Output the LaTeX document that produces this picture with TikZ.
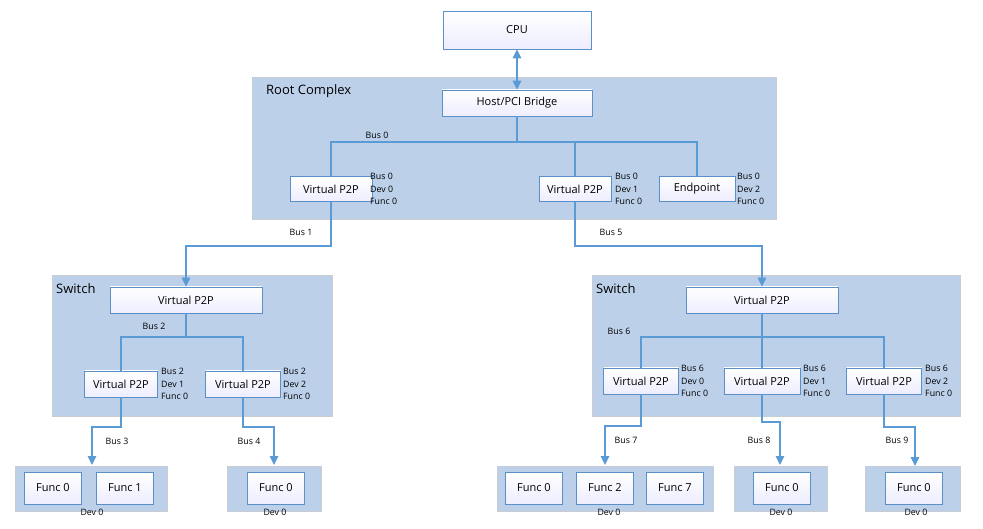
\documentclass[tikz,border=0pt]{standalone}
\usepackage{fontspec}
\setmainfont{Open Sans}
\usetikzlibrary{arrows.meta,shadings}
\definecolor{grpfill}{HTML}{BDD0E9}
\definecolor{grpdraw}{HTML}{C9CDD3}
\definecolor{lineblue}{HTML}{5B9BD5}
\definecolor{boxdraw}{HTML}{5B8FC7}
\begin{document}
\begin{tikzpicture}[x=1pt,y=-1pt,
  grp/.style={fill=grpfill,draw=grpdraw,line width=0.8pt,anchor=north west,inner sep=0pt},
  wbox/.style={draw=boxdraw,line width=0.7pt,top color=white,bottom color=white!93!blue,inner sep=0pt,font=\fontsize{11}{13}\selectfont},
  lbl/.style={font=\fontsize{8.8}{12.5}\selectfont,inner sep=0pt,align=left,anchor=west},
  bus/.style={font=\fontsize{8.8}{10}\selectfont,inner sep=0pt},
  title/.style={font=\fontsize{13}{15}\selectfont,inner sep=0pt,anchor=west},
  conn/.style={draw=lineblue,line width=1.3pt},
  tip/.tip={Triangle[length=9pt,width=8.5pt]},
  arr/.style={conn,-tip}]
\useasboundingbox (0,0) rectangle (983,529);
% groups
\node[grp,minimum width=524pt,minimum height=142pt] (rc) at (252,77) {};
\node[grp,minimum width=280pt,minimum height=141pt] (swl) at (52,275) {};
\node[grp,minimum width=368pt,minimum height=141pt] (swr) at (592,275) {};
\node[grp,minimum width=152pt,minimum height=45pt] (g1) at (15,466) {};
\node[grp,minimum width=94pt,minimum height=45pt] (g2) at (227,466) {};
\node[grp,minimum width=216pt,minimum height=45pt] (g3) at (497,466) {};
\node[grp,minimum width=93pt,minimum height=45pt] (g4) at (734,466) {};
\node[grp,minimum width=95pt,minimum height=45pt] (g5) at (865,466) {};
% titles
\node[title] (trc) at (266,91) {Root Complex};
\node[title] (tswl) at (56,289) {Switch};
\node[title] (tswr) at (596,289) {Switch};
% boxes
\node[wbox,minimum width=148pt,minimum height=38pt] (cpu) at (517,30) {CPU};
\node[wbox,minimum width=150pt,minimum height=26pt] (host) at (517,103) {Host/PCI Bridge};
\node[wbox,minimum width=82pt,minimum height=25pt] (rv0) at (331,189) {Virtual P2P};
\node[wbox,minimum width=72pt,minimum height=25pt] (rv1) at (575,189) {Virtual P2P};
\node[wbox,minimum width=76pt,minimum height=25pt] (rep) at (697,189) {Endpoint};
\node[wbox,minimum width=152pt,minimum height=26pt] (lv) at (186,300) {Virtual P2P};
\node[wbox,minimum width=73pt,minimum height=26pt] (lv1) at (121,384) {Virtual P2P};
\node[wbox,minimum width=75pt,minimum height=26pt] (lv2) at (243,384) {Virtual P2P};
\node[wbox,minimum width=152pt,minimum height=26pt] (rv) at (762,300) {Virtual P2P};
\node[wbox,minimum width=75pt,minimum height=26pt] (rw0) at (641,381) {Virtual P2P};
\node[wbox,minimum width=76pt,minimum height=26pt] (rw1) at (762,381) {Virtual P2P};
\node[wbox,minimum width=75pt,minimum height=26pt] (rw2) at (884,381) {Virtual P2P};
% func boxes
\tikzset{fbox/.style={wbox,minimum width=57pt,minimum height=32pt}}
\node[fbox] (f10) at (53,488) {Func 0};
\node[fbox] (f11) at (125,488) {Func 1};
\node[fbox] (f20) at (276,488) {Func 0};
\node[fbox] (f30) at (534,488) {Func 0};
\node[fbox] (f32) at (605,488) {Func 2};
\node[fbox] (f37) at (675,488) {Func 7};
\node[fbox] (f40) at (782,488) {Func 0};
\node[fbox] (f50) at (914,488) {Func 0};
% dev labels
\node[bus] (d1) at (92,512) {Dev 0};
\node[bus] (d2) at (275,512) {Dev 0};
\node[bus] (d3) at (609,512) {Dev 0};
\node[bus] (d4) at (781,512) {Dev 0};
\node[bus] (d5) at (916,512) {Dev 0};
% side labels
\node[lbl] (l0) at (370,189) {Bus 0\\Dev 0\\Func 0};
\node[lbl] (l1) at (615,189) {Bus 0\\Dev 1\\Func 0};
\node[lbl] (l2) at (737,189) {Bus 0\\Dev 2\\Func 0};
\node[lbl] (l3) at (161,384) {Bus 2\\Dev 1\\Func 0};
\node[lbl] (l4) at (283,384) {Bus 2\\Dev 2\\Func 0};
\node[lbl] (l5) at (681,381) {Bus 6\\Dev 0\\Func 0};
\node[lbl] (l6) at (803,381) {Bus 6\\Dev 1\\Func 0};
\node[lbl] (l7) at (925,381) {Bus 6\\Dev 2\\Func 0};
% bus labels
\node[bus] (b0) at (377,135) {Bus 0};
\node[bus] (b1) at (301,232) {Bus 1};
\node[bus] (b5) at (611,232) {Bus 5};
\node[bus] (b2) at (154,326) {Bus 2};
\node[bus] (b6) at (619,331) {Bus 6};
\node[bus] (b3) at (117,441) {Bus 3};
\node[bus] (b4) at (249,441) {Bus 4};
\node[bus] (b7) at (626,440) {Bus 7};
\node[bus] (b8) at (759,440) {Bus 8};
\node[bus] (b9) at (897,440) {Bus 9};
% connectors
\draw[conn,tip-tip] (cpu.south) -- (host.north);
\coordinate (j0) at (517,142);
\draw[conn] (host.south) -- (j0);
\draw[conn] (rv0.north) |- (rep.north |- j0) -- (rep.north);
\draw[conn] (rv1.north) -- (rv1.north |- j0);
\draw[arr] (rv0.south) -- (331,246) -| (lv.north);
\draw[arr] (rv1.south) -- (575,246) -| (rv.north);
\coordinate (j2) at (186,337);
\draw[conn] (lv.south) -- (j2);
\draw[conn] (lv1.north) |- (lv2.north |- j2) -- (lv2.north);
\coordinate (j6) at (762,337);
\draw[conn] (rv.south) -- (rw1.north);
\draw[conn] (rw0.north) |- (rw2.north |- j6) -- (rw2.north);
\coordinate (a3) at (92,465);
\coordinate (a4) at (274,465);
\coordinate (a7) at (605,465);
\coordinate (a8) at (780,465);
\coordinate (a9) at (915,466);
\draw[arr] (lv1.south) -- (121,427) -| (a3);
\draw[arr] (lv2.south) -- (243,427) -| (a4);
\draw[arr] (rw0.south) -- (641,426) -| (a7);
\draw[arr] (rw1.south) -- (762,422) -| (a8);
\draw[arr] (rw2.south) -- (884,427) -| (a9);
\end{tikzpicture}
\end{document}
